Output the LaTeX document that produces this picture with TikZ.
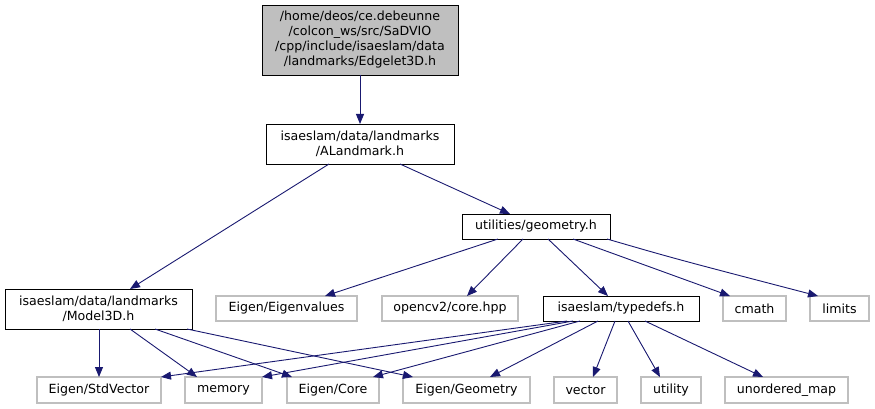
\documentclass[tikz,border=0pt]{standalone}
\usepackage{fontspec}
\setmainfont{DejaVu Sans}
\usetikzlibrary{arrows.meta}
\definecolor{edgeblue}{HTML}{191970}
\definecolor{greyfill}{HTML}{BFBFBF}
\definecolor{greyline}{HTML}{BFBFBF}
\begin{document}
\begin{tikzpicture}[x=1pt,y=-1pt,
  every node/.style={font=\fontsize{12.6}{15}\selectfont, inner sep=0pt, outer sep=0pt, align=center},
  hdr/.style={draw=black, line width=0.9pt, rectangle},
  ext/.style={draw=greyline, line width=1.1pt, rectangle, minimum height=25pt},
  dep/.style={draw=edgeblue, line width=0.9pt, -{Triangle[length=10pt,width=8pt]}}]
\useasboundingbox (0,0) rectangle (875,409);
% nodes
\node[hdr, fill=greyfill, minimum width=196pt, minimum height=70pt] (top) at (360,40)
  {/home/deos/ce.debeunne\\/colcon\_ws/src/SaDVIO\\/cpp/include/isaeslam/data\\/landmarks/Edgelet3D.h};
\node[hdr, minimum width=188pt, minimum height=40pt] (al) at (360,144)
  {isaeslam/data/landmarks\\/ALandmark.h};
\node[hdr, minimum width=187pt, minimum height=40pt] (m3) at (98.5,309)
  {isaeslam/data/landmarks\\/Model3D.h};
\node[hdr, minimum width=148pt, minimum height=25pt] (geo) at (536,226.5) {utilities/geometry.h};
\node[hdr, minimum width=156pt, minimum height=25pt] (td) at (621,308.5) {isaeslam/typedefs.h};
\node[ext, minimum width=141pt] (eig) at (286.5,308.5) {Eigen/Eigenvalues};
\node[ext, minimum width=136pt] (ocv) at (450,308.5) {opencv2/core.hpp};
\node[ext, minimum width=63pt] (cm) at (754.5,308.5) {cmath};
\node[ext, minimum width=59pt] (lim) at (839.5,308.5) {limits};
\node[ext, minimum width=124pt, minimum height=26pt] (sv) at (99,390) {Eigen/StdVector};
\node[ext, minimum width=77pt, minimum height=26pt] (mem) at (223.5,390) {memory};
\node[ext, minimum width=92pt, minimum height=26pt] (core) at (333,390) {Eigen/Core};
\node[ext, minimum width=127pt, minimum height=26pt] (geom) at (466.5,390) {Eigen/Geometry};
\node[ext, minimum width=63pt, minimum height=26pt] (vec) at (585.5,390) {vector};
\node[ext, minimum width=60pt, minimum height=26pt] (util) at (671,390) {utility};
\node[ext, minimum width=123pt, minimum height=26pt] (um) at (786.5,390) {unordered\_map};
% edges
\draw[dep] (top.south) -- (al.north);
\draw[dep] ([xshift=-31pt]al.south) -- ([xshift=31.5pt]m3.north);
\draw[dep] ([xshift=40pt]al.south) -- ([xshift=-26pt]geo.north);
\draw[dep] ([xshift=-38pt]geo.south) -- ([xshift=38.5pt]eig.north);
\draw[dep] ([xshift=-13pt]geo.south) -- ([xshift=17pt]ocv.north);
\draw[dep] ([xshift=12pt]geo.south) -- ([xshift=-13pt]td.north);
\draw[dep] ([xshift=37pt]geo.south) -- ([xshift=-24.5pt]cm.north);
\draw[dep] ([xshift=71pt]geo.south) .. controls ([xshift=140pt,yshift=-20pt]geo.south) .. ([xshift=-21.5pt]lim.north);
\draw[dep] ([xshift=-54pt]td.south) -- ([xshift=62pt]sv.north);
\draw[dep] ([xshift=-48pt]td.south) -- ([xshift=38.5pt]mem.north);
\draw[dep] ([xshift=-41pt]td.south) -- ([xshift=40pt]core.north);
\draw[dep] ([xshift=-23pt]td.south) -- ([xshift=23.5pt]geom.north);
\draw[dep] ([xshift=-6pt]td.south) -- ([xshift=7.5pt]vec.north);
\draw[dep] ([xshift=7pt]td.south) -- ([xshift=-11pt]util.north);
\draw[dep] ([xshift=24pt]td.south) -- ([xshift=-23.5pt]um.north);
\draw[dep] ([xshift=0.5pt]m3.south) -- (sv.north);
\draw[dep] ([xshift=31.5pt]m3.south) -- ([xshift=-26.5pt]mem.north);
\draw[dep] ([xshift=56.5pt]m3.south) -- ([xshift=-41pt]core.north);
\draw[dep] ([xshift=88.5pt]m3.south) -- ([xshift=-53.5pt]geom.north);
\end{tikzpicture}
\end{document}
